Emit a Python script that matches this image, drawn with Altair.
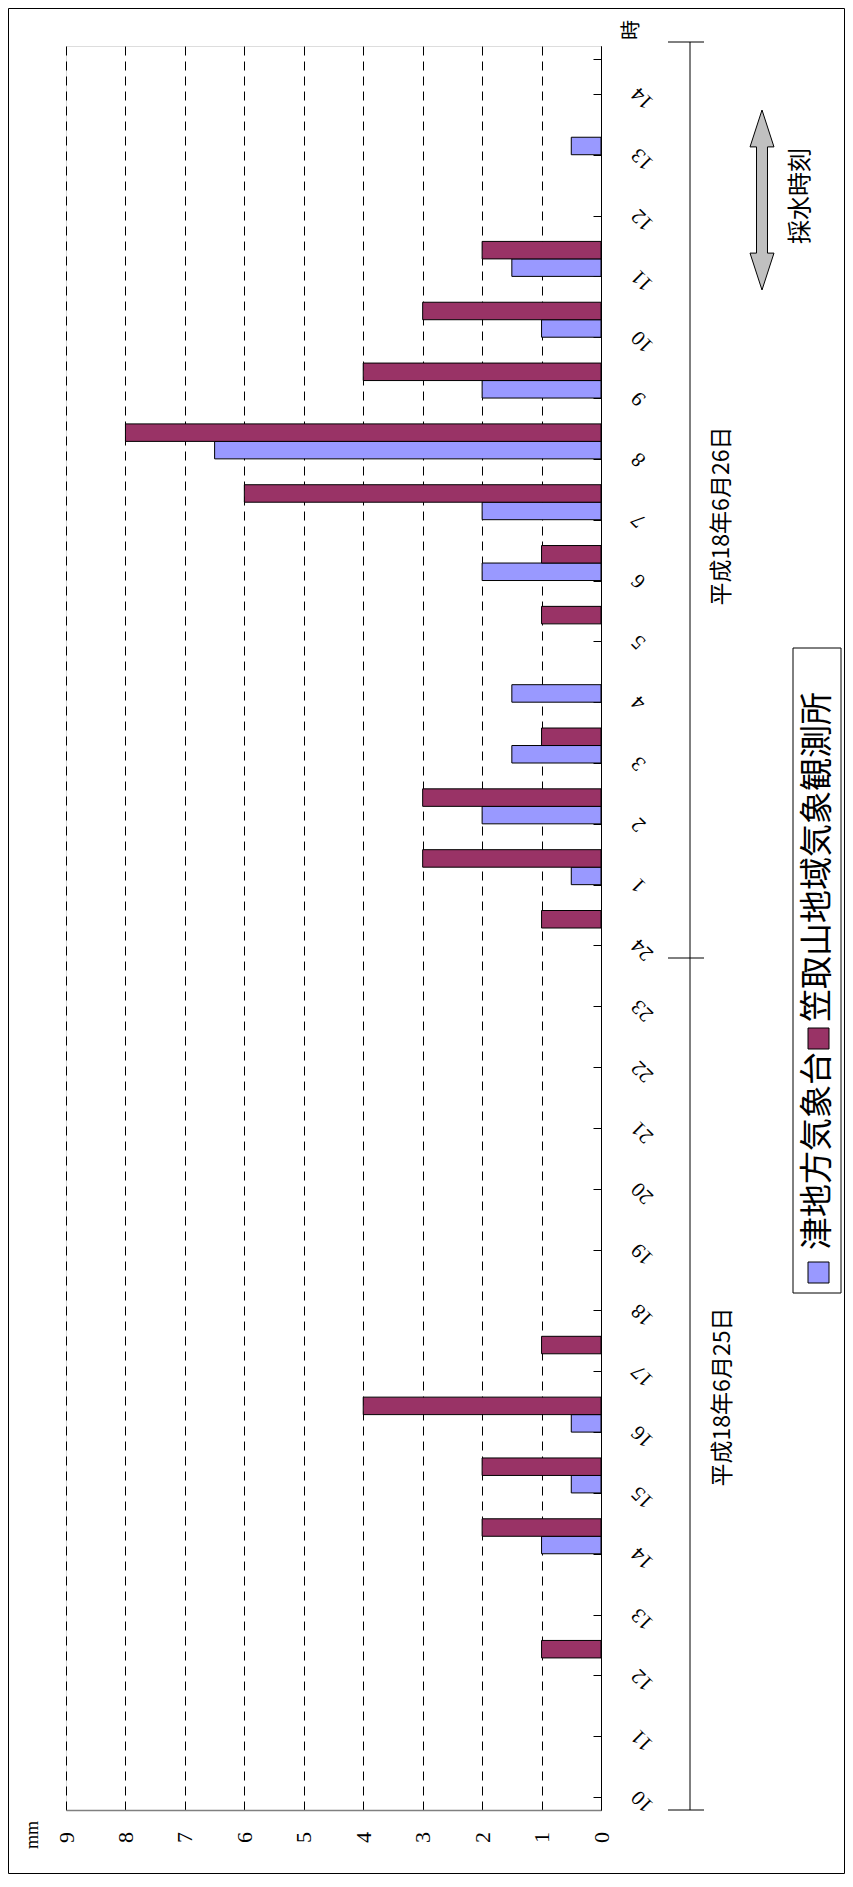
import altair as alt
import pandas as pd

# ---- data ----
hours = ["10", "11", "12", "13", "14", "15", "16", "17", "18", "19", "20", "21", "22", "23",
         "24", "1", "2", "3", "4", "5", "6", "7", "8", "9", "10", "11", "12", "13", "14"]
days = ["25"] * 14 + ["26"] * 15
tsu = [0, 0, 0, 0, 1, 0.5, 0.5, 0, 0, 0, 0, 0, 0, 0,
       0, 0.5, 2, 1.5, 1.5, 0, 2, 2, 6.5, 2, 1, 1.5, 0, 0.5, 0]
kasatori = [0, 0, 1, 0, 2, 2, 4, 1, 0, 0, 0, 0, 0, 0,
            1, 3, 3, 1, 0, 1, 1, 6, 8, 4, 3, 2, 0, 0, 0]
series_names = ["津地方気象台", "笠取山地域気象観測所"]
series_colors = ["#9999FF", "#993366"]
value_ticks = [0, 1, 2, 3, 4, 5, 6, 7, 8, 9]

keys = [f"{d}_{h}" for d, h in zip(days, hours)]
rows = []
for k, a, b in zip(keys, tsu, kasatori):
    rows.append({"key": k, "s": series_names[0], "v": a})
    rows.append({"key": k, "s": series_names[1], "v": b})
df = pd.DataFrame(rows)
order = list(reversed(keys))  # top to bottom

W, H = 535, 1764
SERIF = "Liberation Serif"
SANS = "Noto Sans CJK JP"

bars = alt.Chart(df).transform_filter("datum.v > 0").mark_bar(
    stroke="black", strokeWidth=1
).encode(
    x=alt.X("v:Q",
            scale=alt.Scale(domain=[0, 9], reverse=True, nice=False, zero=True),
            axis=alt.Axis(orient="bottom", values=value_ticks, title=None,
                          domain=True, domainColor="#808080", domainWidth=1.5,
                          ticks=False, tickSize=0,
                          grid=True, gridColor="black", gridDash=[9, 6], gridWidth=1, gridOpacity=1,
                          labelAngle=270, labelAlign="center", labelBaseline="middle",
                          labelPadding=27, labelFont=SERIF, labelFontSize=22, labelColor="black")),
    y=alt.Y("key:N", sort=order,
            scale=alt.Scale(domain=order, paddingInner=0.425, paddingOuter=0.2125),
            axis=alt.Axis(orient="left", offset=-W, title=None,
                          domain=True, domainColor="black", domainWidth=1,
                          ticks=True, tickBand="extent", tickSize=8, tickColor="black", tickWidth=1,
                          grid=False,
                          labelAngle=225, labelAlign="right", labelBaseline="middle",
                          labelPadding=-41.6, labelOffset=13.6,
                          labelFont=SERIF, labelFontSize=21, labelColor="black",
                          labelExpr="split(datum.label, '_')[1]")),
    yOffset=alt.YOffset("s:N", sort=[series_names[1], series_names[0]],
                        scale=alt.Scale(domain=[series_names[1], series_names[0]],
                                        paddingInner=0, paddingOuter=0)),
    color=alt.Color("s:N", scale=alt.Scale(domain=series_names, range=series_colors), legend=None),
)

one = pd.DataFrame({"t": [""]})


def txt(text, x, y, size, font, angle=270, align="center"):
    return alt.Chart(pd.DataFrame({"t": [text]})).mark_text(
        angle=angle, align=align, baseline="middle", font=font, fontSize=size, color="black"
    ).encode(text="t:N", x=alt.value(x), y=alt.value(y))


def rule(x, x2, y, y2, width=1):
    return alt.Chart(one).mark_rule(color="black", strokeWidth=width).encode(
        x=alt.value(x), x2=alt.value(x2), y=alt.value(y), y2=alt.value(y2))


def box(x, x2, y, y2, fill, fill_opacity=1):
    return alt.Chart(one).mark_rect(fill=fill, fillOpacity=fill_opacity, stroke="black",
                                    strokeWidth=1).encode(
        x=alt.value(x), x2=alt.value(x2), y=alt.value(y), y2=alt.value(y2))


# bracket for dates
bracket = alt.layer(
    rule(624, 624, -4, 1764),
    rule(602, 638, -4, -4),
    rule(602, 638, 912, 912),
    rule(602, 638, 1764, 1764),
)

arrow_path = ("M0,-1 L0.133,-0.59 L0.061,-0.59 L0.061,0.59 L0.133,0.59 L0,1 "
              "L-0.133,0.59 L-0.061,0.59 L-0.061,-0.59 L-0.133,-0.59 Z")
arrow = alt.Chart(one).mark_point(
    shape=arrow_path, filled=True, fill="#C0C0C0", stroke="black", strokeWidth=1,
    opacity=1, fillOpacity=1, size=180 * 180
).encode(x=alt.value(696), y=alt.value(154))

legend = alt.layer(
    box(727, 775, 602, 1247, "white"),
    box(742, 763, 1216, 1237, series_colors[0]),
    txt(series_names[0], 752, 1204, 33, SANS, align="left"),
    box(742, 763, 982, 1003, series_colors[1]),
    txt(series_names[1], 752, 976, 33, SANS, align="left"),
)

border = box(-57.5, 778.5, -37.5, 1827.5, "white", 0)

chart = alt.layer(
    border,
    bars,
    bracket,
    arrow,
    txt("平成18年6月25日", 657, 1351, 23, SANS),
    txt("平成18年6月26日", 656, 470, 23, SANS),
    txt("採水時刻", 735, 150, 24, SANS),
    txt("時", 566, -16, 20, SANS),
    txt("mm", -33, 1789, 18, SERIF),
    legend,
).properties(
    width=W, height=H,
    padding={"left": 58, "top": 38, "right": 244, "bottom": 64},
    autosize=alt.AutoSizeParams(type="none"),
).configure_view(stroke=None).configure(background="white")

chart.save("out.html", embed_options={"renderer": "svg", "actions": False})
